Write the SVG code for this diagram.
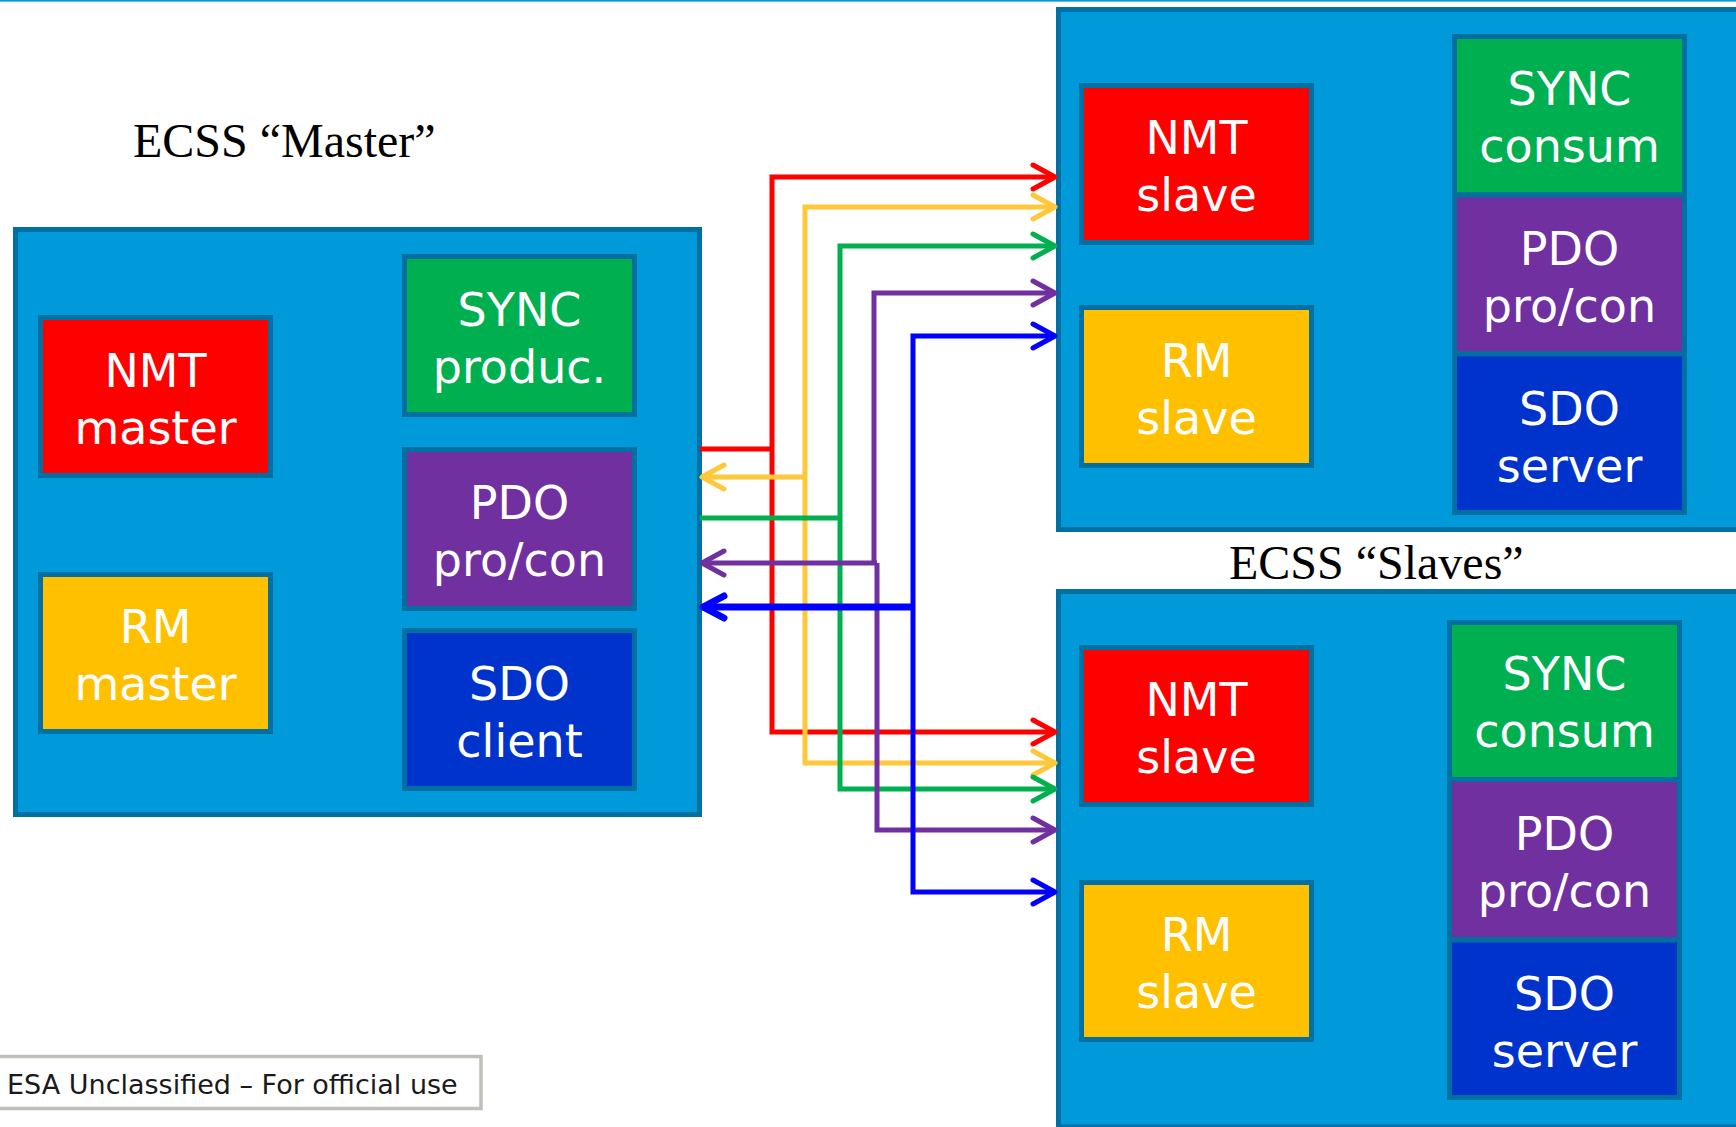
<svg xmlns="http://www.w3.org/2000/svg" width="1736" height="1127" viewBox="0 0 1736 1127">
<style>
.cont{fill:#0099DA;stroke:#0070A2;stroke-width:5}
.box{stroke:#0070A2;stroke-width:5}
.red{fill:#FF0000}.yel{fill:#FFC000}.grn{fill:#00B050}.pur{fill:#7030A0}.blu{fill:#0033CC}
.lbl{font-family:"DejaVu Sans","Liberation Sans",sans-serif;font-size:46px;fill:#FFFFFF;text-anchor:middle}
.title{font-family:"Liberation Serif","Times New Roman",serif;font-size:48px;fill:#000000}
.c{fill:none;stroke-width:5;stroke-linejoin:miter;stroke-linecap:butt}
.cr{stroke:#FF0000}.cy{stroke:#FFC83A}.cg{stroke:#00B050}.cp{stroke:#7030A0}.cb{stroke:#0000FF}
</style>
<defs>
<marker id="ar" markerUnits="userSpaceOnUse" orient="auto" overflow="visible" markerWidth="1" markerHeight="1"><path d="M-22,-12 L0,0 L-22,12" fill="none" stroke="#FF0000" stroke-width="5" stroke-linecap="round" stroke-linejoin="round"/></marker>
<marker id="ay" markerUnits="userSpaceOnUse" orient="auto" overflow="visible" markerWidth="1" markerHeight="1"><path d="M-22,-12 L0,0 L-22,12" fill="none" stroke="#FFC83A" stroke-width="5" stroke-linecap="round" stroke-linejoin="round"/></marker>
<marker id="ag" markerUnits="userSpaceOnUse" orient="auto" overflow="visible" markerWidth="1" markerHeight="1"><path d="M-22,-12 L0,0 L-22,12" fill="none" stroke="#00B050" stroke-width="5" stroke-linecap="round" stroke-linejoin="round"/></marker>
<marker id="ap" markerUnits="userSpaceOnUse" orient="auto" overflow="visible" markerWidth="1" markerHeight="1"><path d="M-22,-12 L0,0 L-22,12" fill="none" stroke="#7030A0" stroke-width="5" stroke-linecap="round" stroke-linejoin="round"/></marker>
<marker id="ab" markerUnits="userSpaceOnUse" orient="auto" overflow="visible" markerWidth="1" markerHeight="1"><path d="M-22,-12 L0,0 L-22,12" fill="none" stroke="#0000FF" stroke-width="5" stroke-linecap="round" stroke-linejoin="round"/></marker>
<marker id="ab2" markerUnits="userSpaceOnUse" orient="auto" overflow="visible" markerWidth="1" markerHeight="1"><path d="M-21,-11 L0,0 L-21,11" fill="none" stroke="#0000FF" stroke-width="7" stroke-linecap="round" stroke-linejoin="round"/></marker>
</defs>
<rect x="0" y="0" width="1736" height="1127" fill="#FFFFFF"/>
<rect x="0" y="0" width="1736" height="1.6" fill="#0099DA"/>

<text class="title" x="133" y="157">ECSS “Master”</text>
<text class="title" x="1229" y="579">ECSS “Slaves”</text>

<g id="master">
<rect class="cont" x="15.5" y="229.5" width="684" height="585"/>
<g id="nmt-master"><rect class="box red" x="40.5" y="317.5" width="230" height="158"/><text class="lbl" x="155.5" y="386.5">NMT</text><text class="lbl" x="155.5" y="443.5">master</text></g>
<g id="rm-master"><rect class="box yel" x="40.5" y="574.5" width="230" height="157"/><text class="lbl" x="155.5" y="643">RM</text><text class="lbl" x="155.5" y="700">master</text></g>
<g id="sync-produc"><rect class="box grn" x="404.5" y="256.5" width="230" height="158"/><text class="lbl" x="519.5" y="325.5">SYNC</text><text class="lbl" x="519.5" y="382.5">produc.</text></g>
<g id="pdo-master"><rect class="box pur" x="404.5" y="449.5" width="230" height="159"/><text class="lbl" x="519.5" y="519">PDO</text><text class="lbl" x="519.5" y="576">pro/con</text></g>
<g id="sdo-client"><rect class="box blu" x="404.5" y="630.5" width="230" height="158"/><text class="lbl" x="519.5" y="699.5">SDO</text><text class="lbl" x="519.5" y="756.5">client</text></g>
</g>

<g id="slave1">
<rect class="cont" x="1058.5" y="9.5" width="700" height="520"/>
<g id="nmt-slave1"><rect class="box red" x="1081.5" y="85.5" width="230" height="157"/><text class="lbl" x="1196.5" y="154">NMT</text><text class="lbl" x="1196.5" y="211">slave</text></g>
<g id="rm-slave1"><rect class="box yel" x="1081.5" y="307.5" width="230" height="158"/><text class="lbl" x="1196.5" y="376.5">RM</text><text class="lbl" x="1196.5" y="433.5">slave</text></g>
<g id="sync-consum1"><rect class="box grn" x="1454.5" y="36.5" width="230" height="158.5"/><text class="lbl" x="1569.5" y="105">SYNC</text><text class="lbl" x="1569.5" y="162">consum</text></g>
<g id="pdo-slave1"><rect class="box pur" x="1454.5" y="195" width="230" height="159"/><text class="lbl" x="1569.5" y="264.5">PDO</text><text class="lbl" x="1569.5" y="321.5">pro/con</text></g>
<g id="sdo-server1"><rect class="box blu" x="1454.5" y="354" width="230" height="158.5"/><text class="lbl" x="1569.5" y="424.5">SDO</text><text class="lbl" x="1569.5" y="481.5">server</text></g>
</g>

<g id="slave2">
<rect class="cont" x="1058.5" y="591.5" width="700" height="535.5"/>
<g id="nmt-slave2"><rect class="box red" x="1081.5" y="647.5" width="230" height="157"/><text class="lbl" x="1196.5" y="716">NMT</text><text class="lbl" x="1196.5" y="773">slave</text></g>
<g id="rm-slave2"><rect class="box yel" x="1081.5" y="882.5" width="230" height="157"/><text class="lbl" x="1196.5" y="951">RM</text><text class="lbl" x="1196.5" y="1008">slave</text></g>
<g id="sync-consum2"><rect class="box grn" x="1449.5" y="622.5" width="230" height="157"/><text class="lbl" x="1564.5" y="689.5">SYNC</text><text class="lbl" x="1564.5" y="746.5">consum</text></g>
<g id="pdo-slave2"><rect class="box pur" x="1449.5" y="779.5" width="230" height="160.5"/><text class="lbl" x="1564.5" y="849.5">PDO</text><text class="lbl" x="1564.5" y="906.5">pro/con</text></g>
<g id="sdo-server2"><rect class="box blu" x="1449.5" y="940" width="230" height="157.5"/><text class="lbl" x="1564.5" y="1010">SDO</text><text class="lbl" x="1564.5" y="1067">server</text></g>
</g>

<g id="connectors">
<path class="c cr" d="M700,449 H772"/>
<path class="c cr" d="M772,449 V177 H1055" marker-end="url(#ar)"/>
<path class="c cr" d="M772,449 V732 H1055" marker-end="url(#ar)"/>
<path class="c cy" d="M805,477 H702" marker-end="url(#ay)"/>
<path class="c cy" d="M805,477 V207 H1055" marker-end="url(#ay)"/>
<path class="c cy" d="M805,477 V763 H1055" marker-end="url(#ay)"/>
<path class="c cg" d="M700,518 H840"/>
<path class="c cg" d="M840,518 V246 H1055" marker-end="url(#ag)"/>
<path class="c cg" d="M840,518 V789 H1055" marker-end="url(#ag)"/>
<path class="c cp" d="M874,563 V293 H1055" marker-end="url(#ap)"/>
<path class="c cp" d="M877,563 V830 H1055" marker-end="url(#ap)"/>
<path class="c cp" d="M877,563 H702" marker-end="url(#ap)"/>
<path class="c cb" d="M913,607 V336 H1055" marker-end="url(#ab)"/>
<path class="c cb" d="M913,607 V892 H1055" marker-end="url(#ab)"/>
<path class="c cb" style="stroke-width:7" d="M913,607 H703" marker-end="url(#ab2)"/>
</g>

<g id="footer">
<rect x="-3" y="1056.5" width="484" height="52" fill="#FFFFFF" stroke="#C0C0BA" stroke-width="3.5"/>
<text x="7" y="1094" font-family="DejaVu Sans, Verdana, sans-serif" font-size="27" fill="#1A1A1A">ESA Unclassified – For official use</text>
</g>
</svg>
